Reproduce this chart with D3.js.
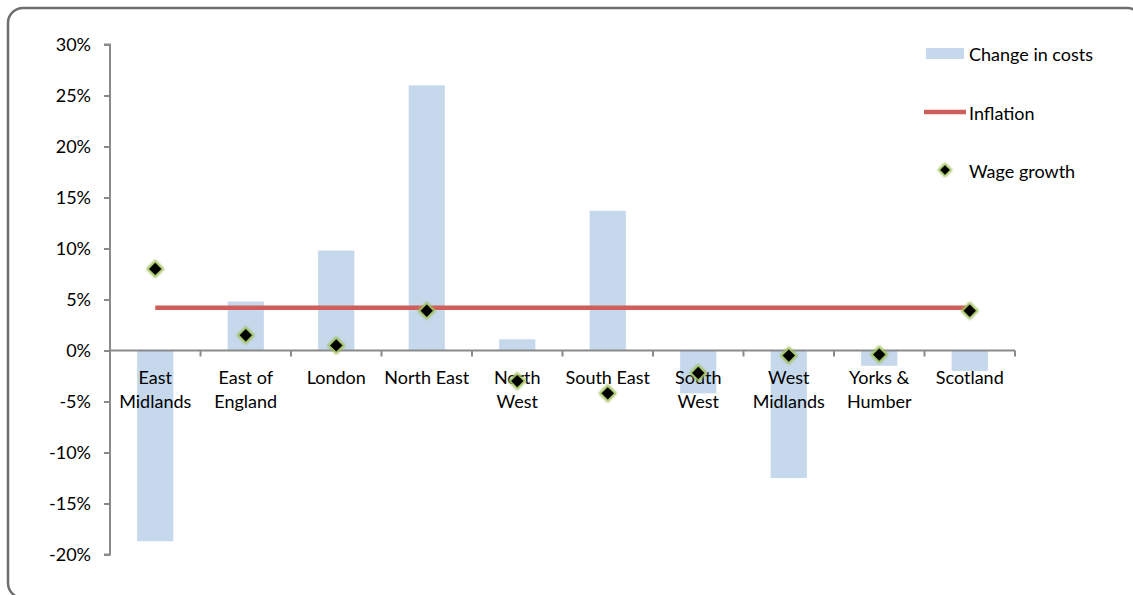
<!DOCTYPE html>
<html>
<head>
<meta charset="utf-8">
<script src="https://cdn.jsdelivr.net/npm/d3@7"></script>
<style>
  html, body { margin: 0; padding: 0; background: #fff; }
  svg { display: block; }
  text { font-family: Lato, "Open Sans", sans-serif; fill: #000; }
</style>
</head>
<body>
<svg id="chart" width="1133" height="595"></svg>
<script>
// Regional data (percent change)
const regions = [
  ["East", "Midlands"], ["East of", "England"], ["London"], ["North East"],
  ["North", "West"], ["South East"], ["South", "West"], ["West", "Midlands"],
  ["Yorks &", "Humber"], ["Scotland"]
];
const changeInCosts = [-18.7, 4.8, 9.8, 26.0, 1.1, 13.7, -4.2, -12.5, -1.5, -2.0];
const wageGrowth   = [8.0, 1.5, 0.5, 3.9, -3.0, -4.2, -2.2, -0.5, -0.4, 3.9];
const inflation    = [4.2, 4.2, 4.2, 4.2, 4.2, 4.2, 4.2, 4.2, 4.2, 4.2];
const yTicks       = [30, 25, 20, 15, 10, 5, 0, -5, -10, -15, -20];
const legendItems  = ["Change in costs", "Inflation", "Wage growth"];

const svg = d3.select("#chart");
const plotLeft = 110, plotRight = 1015, plotTop = 44.5, plotBottom = 554.5;
const fontSize = 18;

// outer rounded frame
svg.append("rect")
  .attr("x", 8).attr("y", 8).attr("width", 1134).attr("height", 590)
  .attr("rx", 15).attr("ry", 15)
  .attr("fill", "#fff").attr("stroke", "#6e6e6e").attr("stroke-width", 2.5);

const idx = d3.range(regions.length);
const x = d3.scaleBand().domain(idx).range([plotLeft, plotRight]).paddingInner(0.6).paddingOuter(0.3);
const xc = i => x(i) + x.bandwidth() / 2;
const y = d3.scaleLinear().domain([-20, 30]).range([plotBottom, plotTop]);

// soft edge for wage growth markers
const defs = svg.append("defs");
const f = defs.append("filter").attr("id", "soft").attr("x", "-50%").attr("y", "-50%").attr("width", "200%").attr("height", "200%");
f.append("feGaussianBlur").attr("stdDeviation", 1);

// bars
svg.append("g").selectAll("rect").data(idx).join("rect")
  .attr("x", i => x(i))
  .attr("width", x.bandwidth())
  .attr("y", i => y(Math.max(0, changeInCosts[i])))
  .attr("height", i => Math.abs(y(changeInCosts[i]) - y(0)))
  .attr("fill", "#c5d8ec");

// y axis
const yAxis = svg.append("g").attr("transform", `translate(${plotLeft},0)`)
  .call(d3.axisLeft(y).tickValues(yTicks).tickSize(6).tickPadding(13).tickFormat(d => d + "%"));
yAxis.select(".domain").attr("stroke", "#8a8a8a").attr("stroke-width", 2).attr("d", `M-6,${y(30)}H0V${y(-20)}H-6`);
yAxis.selectAll(".tick line").attr("stroke", "#8a8a8a").attr("stroke-width", 2);
yAxis.selectAll(".tick text").attr("font-size", fontSize).attr("font-family", "Lato, 'Open Sans', sans-serif").attr("fill", "#000");

// x axis along zero with category boundary ticks
const xAxisG = svg.append("g");
xAxisG.append("line")
  .attr("x1", plotLeft).attr("x2", plotRight).attr("y1", y(0)).attr("y2", y(0))
  .attr("stroke", "#8a8a8a").attr("stroke-width", 2);
const step = (plotRight - plotLeft) / regions.length;
xAxisG.selectAll("line.tk").data(d3.range(1, regions.length + 1)).join("line")
  .attr("class", "tk")
  .attr("x1", k => plotLeft + k * step).attr("x2", k => plotLeft + k * step)
  .attr("y1", y(0)).attr("y2", y(0) + 6)
  .attr("stroke", "#8a8a8a").attr("stroke-width", 2);

// category labels
const lab = svg.append("g").selectAll("text").data(idx).join("text")
  .attr("x", i => xc(i)).attr("y", y(0) + 33)
  .attr("text-anchor", "middle").attr("font-size", fontSize);
lab.each(function (i) {
  const t = d3.select(this);
  regions[i].forEach((line, j) => {
    t.append("tspan").attr("x", xc(i)).attr("dy", j === 0 ? 0 : 24).text(line);
  });
});

// inflation line
svg.append("path")
  .datum(idx)
  .attr("d", d3.line().x(i => xc(i)).y(i => y(inflation[i])))
  .attr("fill", "none").attr("stroke", "#cf5d59").attr("stroke-width", 4.5);

// wage growth markers
const diamond = (cx, cy, r) => `M${cx},${cy - r}L${cx + r},${cy}L${cx},${cy + r}L${cx - r},${cy}Z`;
const wg = svg.append("g");
wg.selectAll("path.glow").data(idx).join("path")
  .attr("class", "glow")
  .attr("d", i => diamond(xc(i), y(wageGrowth[i]), 9.3))
  .attr("fill", "#9fbf5c").attr("filter", "url(#soft)");
wg.selectAll("path.core").data(idx).join("path")
  .attr("class", "core")
  .attr("d", i => diamond(xc(i), y(wageGrowth[i]), 6.2))
  .attr("fill", "#000");

// legend
const lg = svg.append("g");
lg.append("rect").attr("x", 926).attr("y", 48).attr("width", 38).attr("height", 11).attr("fill", "#c5d8ec");
lg.append("line").attr("x1", 924).attr("x2", 966).attr("y1", 112).attr("y2", 112)
  .attr("stroke", "#cf5d59").attr("stroke-width", 4.5);
lg.append("path").attr("d", diamond(945, 170, 7.5)).attr("fill", "#9fbf5c").attr("filter", "url(#soft)");
lg.append("path").attr("d", diamond(945, 170, 4.8)).attr("fill", "#000");
lg.selectAll("text").data(legendItems).join("text")
  .attr("x", 969).attr("y", (d, i) => 61 + i * 58.5)
  .attr("font-size", fontSize).text(d => d);
</script>
</body>
</html>
